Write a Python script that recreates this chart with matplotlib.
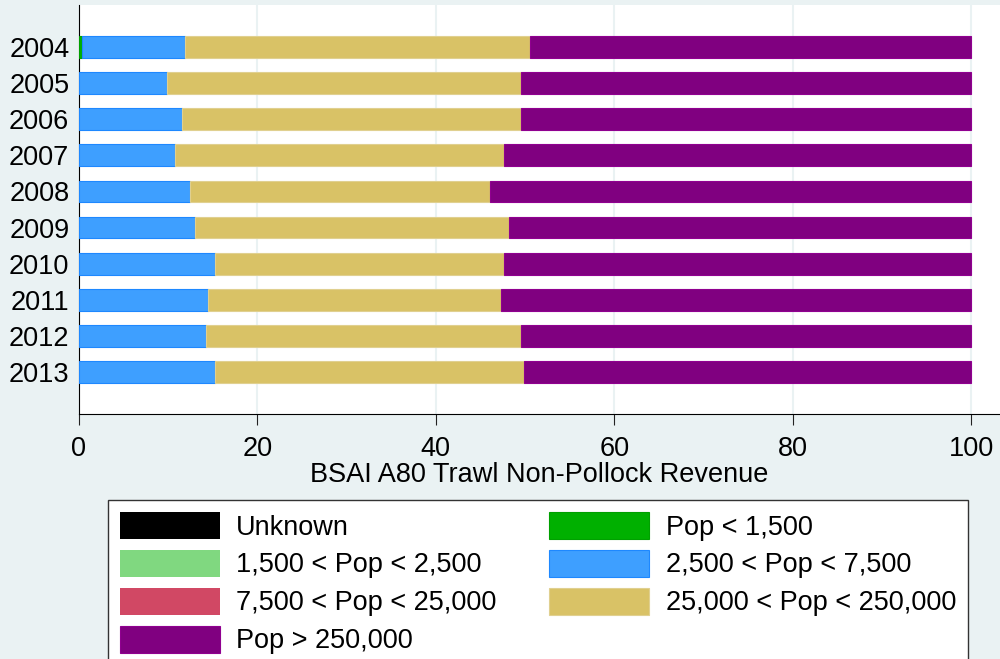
import matplotlib
matplotlib.use("Agg")
import matplotlib.pyplot as plt
import numpy as np

# данные: доли выручки по категориям населения, %
years = ["2004", "2005", "2006", "2007", "2008", "2009", "2010", "2011", "2012", "2013"]
unknown   = [0, 0, 0, 0, 0, 0, 0, 0, 0, 0]
pop_1500  = [0.3, 0, 0, 0, 0, 0, 0, 0, 0, 0]
pop_2500  = [0, 0, 0, 0, 0, 0, 0, 0, 0, 0]
pop_7500  = [11.6, 9.9, 11.5, 10.8, 12.4, 13.0, 15.2, 14.5, 14.2, 15.2]
pop_25k   = [0, 0, 0, 0, 0, 0, 0, 0, 0, 0]
pop_250k  = [38.7, 39.7, 38.1, 36.9, 33.7, 35.2, 32.4, 32.8, 35.4, 34.7]
pop_big   = [49.4, 50.4, 50.4, 52.3, 53.9, 51.8, 52.4, 52.7, 50.4, 50.1]

labels = ["Unknown", "Pop < 1,500", "1,500 < Pop < 2,500", "2,500 < Pop < 7,500",
          "7,500 < Pop < 25,000", "25,000 < Pop < 250,000", "Pop > 250,000"]
colors = ["#000000", "#00B000", "#80D880", "#3E9FFF", "#D14864", "#D9C266", "#800080"]
edges  = ["#000000", "#00A000", "#30B830", "#1E88FF", "#D01040", "#E0D090", "#900090"]
series = [unknown, pop_1500, pop_2500, pop_7500, pop_25k, pop_250k, pop_big]

bg = "#EAF2F3"
fs = 19.5
plt.rcParams['font.family'] = ['Liberation Sans', 'DejaVu Sans']

fig = plt.figure(figsize=(10, 6.59), dpi=100, facecolor=bg)
ax = fig.add_axes([0.079, 0.3718, 0.921, 0.6206])

y = np.arange(len(years))
left = np.zeros(len(years))
handles = []
for vals, lab, c, ec in zip(series, labels, colors, edges):
    vals = np.array(vals, dtype=float)
    lw = [0.8 if v > 0 else 0 for v in vals]
    b = ax.barh(y, vals, left=left, height=0.6, color=c, edgecolor=ec,
                linewidth=lw, label=lab, zorder=3)
    handles.append(b)
    left += vals

ax.set_xlim(0, 103.25)
ax.set_ylim(10.16, -1.16)
ax.set_yticks(y)
ax.set_yticklabels(years, fontsize=fs)
ax.set_xticks([0, 20, 40, 60, 80, 100])
ax.tick_params(axis='x', labelsize=fs, length=8, direction='out', colors='#222222',
               labelcolor='black', pad=7.5)
ax.tick_params(axis='y', length=0, pad=7)
ax.grid(axis='x', color=bg, linewidth=1.5, zorder=0)
ax.set_axisbelow(True)
for s in ['top', 'right']:
    ax.spines[s].set_visible(False)
ax.spines['left'].set_color('black')
ax.spines['bottom'].set_color('black')
ax.set_xlabel("BSAI A80 Trawl Non-Pollock Revenue", fontsize=fs, labelpad=0.5)

# порядок в легенде: по строкам, две колонки
order = [0, 2, 4, 6, 1, 3, 5]
leg = fig.legend([handles[i] for i in order], [labels[i] for i in order],
                 loc='upper left', bbox_to_anchor=(0.108, -0.3, 0.86, 0.5413),
                 mode='expand', ncol=2, fontsize=fs, frameon=True, fancybox=False,
                 framealpha=1, facecolor='white',
                 handlelength=3.7, handleheight=1.16, handletextpad=0.6,
                 labelspacing=0.34, borderaxespad=0, borderpad=0.44, columnspacing=1.0)
leg.get_frame().set_edgecolor('#333333')
leg.get_frame().set_linewidth(1.0)

fig.savefig("out.png", dpi=100, facecolor=bg)
